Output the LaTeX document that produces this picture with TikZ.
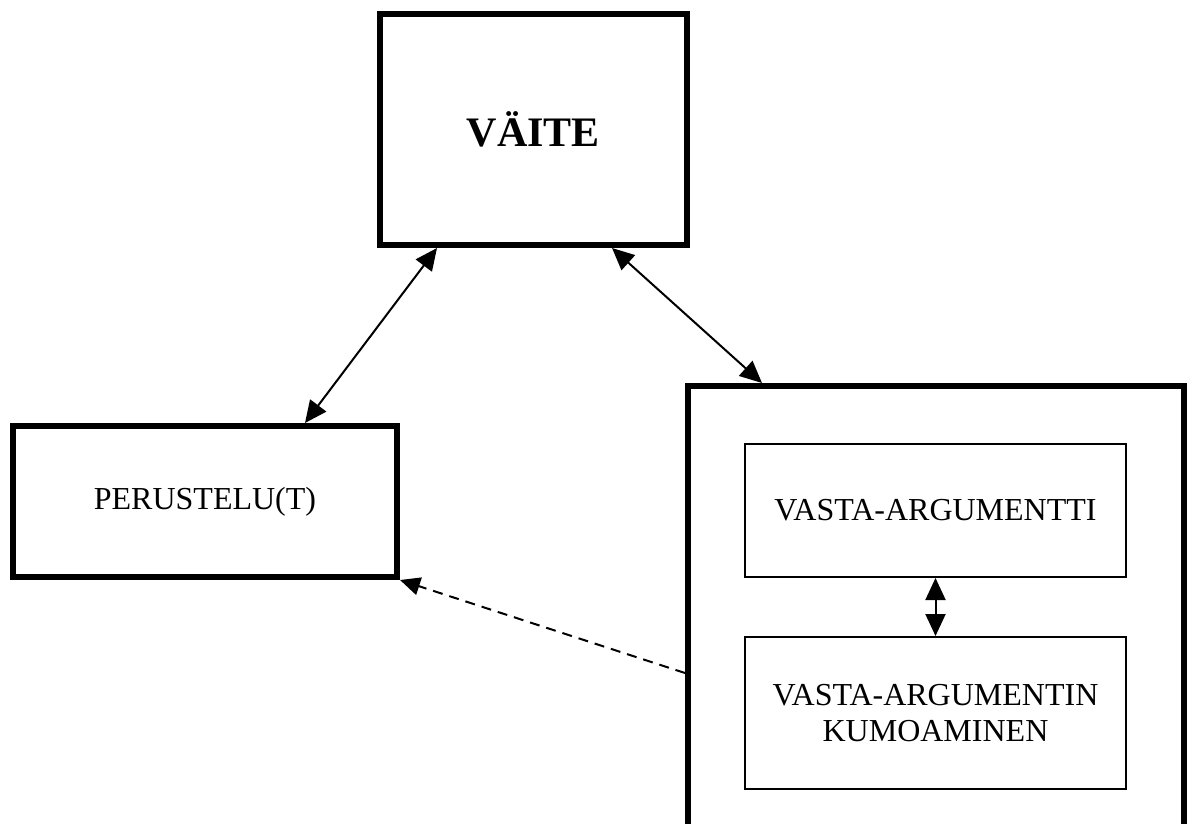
\documentclass[tikz,border=0pt]{standalone}
\usepackage{fontspec}
\setmainfont{Liberation Serif}
\usetikzlibrary{arrows.meta,positioning}

\begin{document}
\begin{tikzpicture}[x=0.5pt, y=-0.5pt, font=\fontsize{16}{18}\selectfont,
        heavy/.style = {draw, line width=3pt, inner sep=0pt, align=center},
        light/.style = {draw, line width=1pt, inner sep=0pt, align=center, minimum width=190.5pt},
        head/.style = {Triangle[length=11pt,width=10pt]},
        both/.style = {line width=1pt, {Triangle[length=11pt,width=10pt]}-{Triangle[length=11pt,width=10pt]}}]
            \useasboundingbox (0,0) rectangle (1194,824);
            \clip (0,0) rectangle (1194,824);
            \node[heavy, minimum width=153.5pt, minimum height=115.5pt, font=\fontsize{21}{25}\selectfont\bfseries] (vaite) at (533.5,129.5) {VÄITE};
            \node[heavy, minimum width=192pt, minimum height=75.5pt] (perustelu) at (205,501.5) {PERUSTELU(T)};
            \node[heavy, minimum width=248pt, minimum height=257pt] (vasta) at (936,643) {};
            \node[light, minimum height=66.5pt] (arg) at (935.5,510.5) {VASTA-ARGUMENTTI};
            \node[light, minimum height=76pt] (kumo) [below=29pt of arg] {VASTA-ARGUMENTIN\\KUMOAMINEN};
            \draw[both] ([xshift=30pt]vaite.south west) -- ([xshift=147.5pt]perustelu.north west);
            \draw[both] ([xshift=117.5pt]vaite.south west) -- ([xshift=38.5pt]vasta.north west);
            \draw[both] (arg) -- (kumo);
            \draw[line width=1pt, dash pattern=on 5pt off 3.5pt, -{Triangle[length=10pt,width=9pt]}] ([yshift=-145pt]vasta.north west) -- (perustelu.south east);
        \end{tikzpicture}
\end{document}
